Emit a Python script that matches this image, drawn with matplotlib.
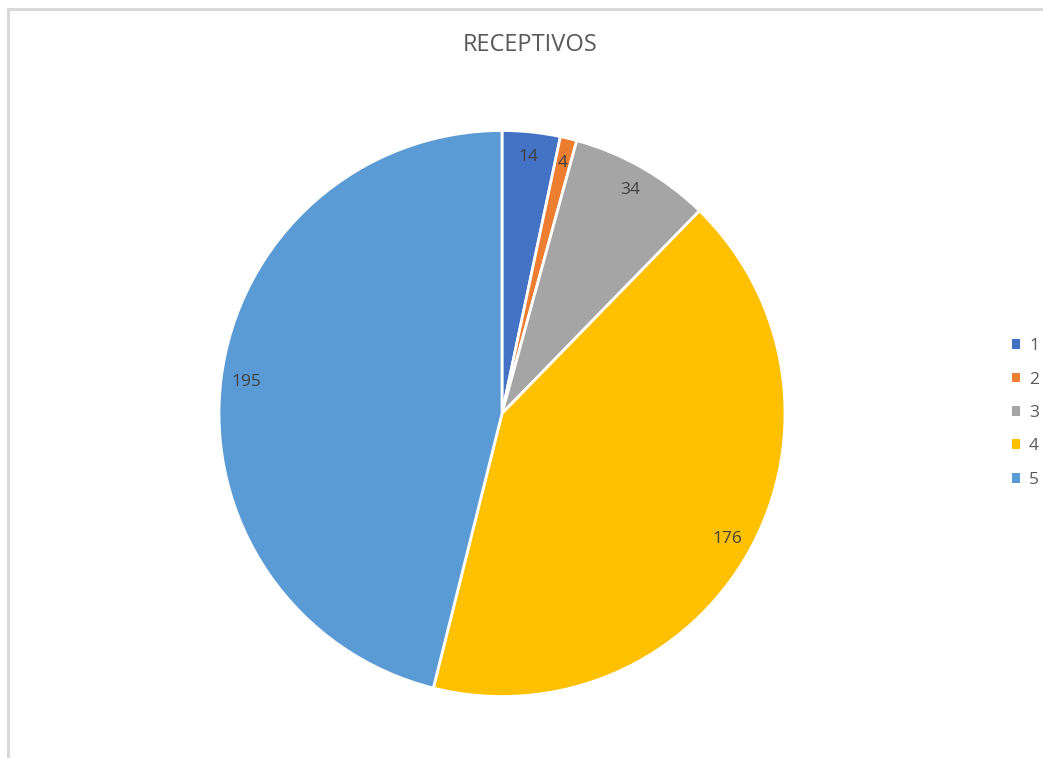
import matplotlib
matplotlib.use('Agg')
import matplotlib.pyplot as plt
from matplotlib.patches import Patch
from matplotlib.lines import Line2D

# data
categories = ['1', '2', '3', '4', '5']
values = [14, 4, 34, 176, 195]
colors = ['#4472C4', '#ED7D31', '#A5A5A5', '#FFC000', '#5B9BD5']
title = 'RECEPTIVOS'

plt.rcParams['font.family'] = ['Open Sans', 'DejaVu Sans']

W, H = 1043, 758
fig = plt.figure(figsize=(W / 100, H / 100), dpi=100)

# frame lines (top and left only, like the screenshot crop)
fig.add_artist(Line2D([8 / W, 8 / W], [0, 1 - 9 / H], color='#d9d9d9', lw=2.2,
                      transform=fig.transFigure))
fig.add_artist(Line2D([8 / W, 1], [1 - 9 / H, 1 - 9 / H], color='#d9d9d9', lw=2.2,
                      transform=fig.transFigure))

cx, cy, r = 502, 413.5, 283
ax = fig.add_axes([(cx - r) / W, (H - cy - r) / H, 2 * r / W, 2 * r / H])
wedges, texts = ax.pie(values, colors=colors, startangle=90, counterclock=False,
                       labels=[str(v) for v in values], labeldistance=0.91,
                       wedgeprops=dict(edgecolor='white', linewidth=2),
                       textprops=dict(color='#404040', fontsize=12.5))
for t in texts:
    t.set_horizontalalignment('center')
    t.set_verticalalignment('center')
ax.set_xlim(-1.0, 1.0)
ax.set_ylim(-1.0, 1.0)
ax.axis('off')

fig.text(530 / W, 1 - 45 / H, title, ha='center', va='center', fontsize=17, color='#595959')

handles = [Patch(facecolor=c, edgecolor='none') for c in colors]
fig.legend(handles, categories, loc='center left', bbox_to_anchor=(996 / W, 1 - 413 / H),
           frameon=False, fontsize=12.5, labelcolor='#595959', handlelength=0.5,
           handleheight=0.5, handletextpad=0.5, labelspacing=1.0)

fig.savefig('out.png', dpi=100, facecolor='white')
